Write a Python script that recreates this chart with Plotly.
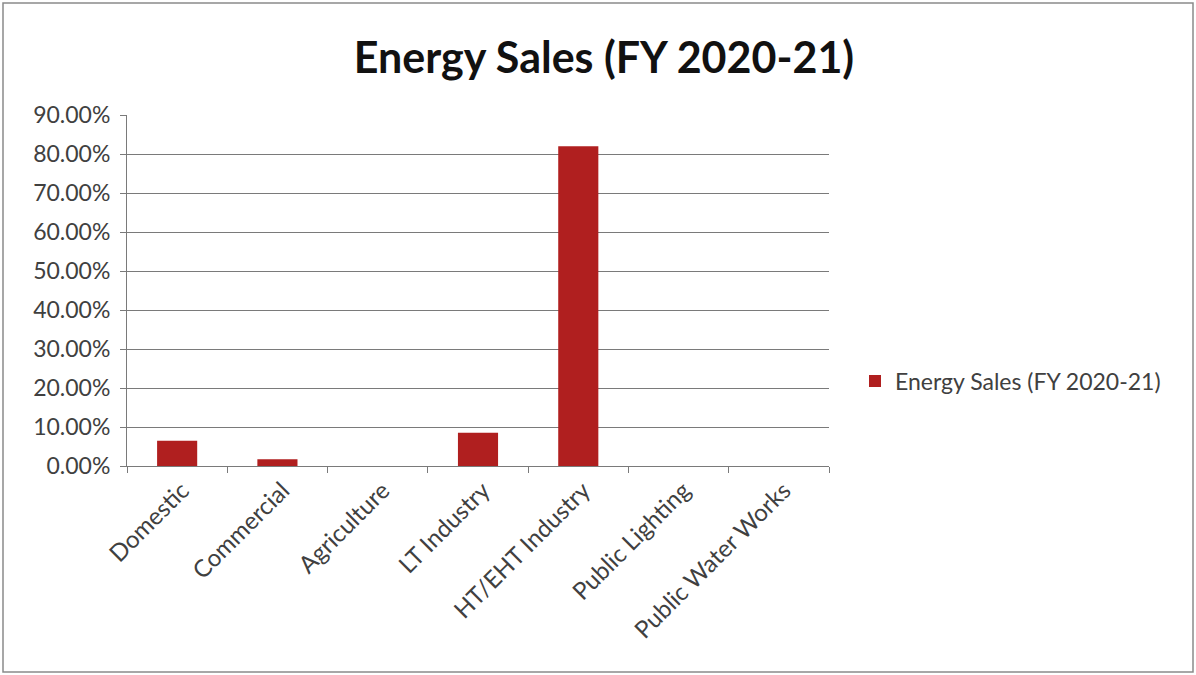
import plotly.graph_objects as go

categories = ["Domestic", "Commercial", "Agriculture", "LT Industry",
              "HT/EHT Industry", "Public Lighting", "Public Water Works"]
values = [6.5, 1.7, 0.0, 8.5, 82.0, 0.0, 0.0]
series_name = "Energy Sales (FY 2020-21)"
y_ticks = [0, 10, 20, 30, 40, 50, 60, 70, 80, 90]

L, R, T, B = 127, 367, 115, 209
W, H = 1196, 675
pw, ph = W - L - R, H - T - B

font_family = "Lato, 'Open Sans', sans-serif"

fig = go.Figure()
fig.add_trace(go.Bar(
    x=categories, y=values, name=series_name,
    marker=dict(color="#B01F1F", line=dict(width=0)),
    showlegend=True,
))

fig.update_layout(
    width=W, height=H,
    margin=dict(l=L, r=R, t=T, b=B, autoexpand=False),
    paper_bgcolor="white", plot_bgcolor="white",
    bargap=0.6,
    title=dict(text="<b>Energy Sales (FY 2020-21)</b>", x=0.505, xanchor="center",
               y=1 - 58 / H, yanchor="middle",
               font=dict(family=font_family, size=43, color="#111111")),
    font=dict(family=font_family, color="#404040"),
    showlegend=True,
    legend=dict(x=(855 - L) / pw, y=(466 - 381) / ph, xanchor="left", yanchor="middle",
                font=dict(size=23, color="#404040"), bgcolor="rgba(0,0,0,0)",
                itemwidth=30),
    xaxis=dict(
        type="category", showline=True, linecolor="#7a7a7a", linewidth=1,
        ticks="outside", tickson="boundaries", ticklen=6, tickcolor="#7a7a7a",
        tickangle=-45, tickfont=dict(size=24, color="#404040"),
        ticklabelshift=5,
        showgrid=False, zeroline=False,
    ),
    yaxis=dict(
        range=[0, 90], tickvals=y_ticks,
        ticktext=[f"{v:.2f}%" for v in y_ticks],
        showline=True, linecolor="#7a7a7a", linewidth=1,
        ticks="outside", ticklen=6, tickcolor="#7a7a7a",
        showgrid=True, gridcolor="#7a7a7a", gridwidth=1,
        zeroline=False, tickfont=dict(size=23, color="#404040"),
        ticklabelstandoff=5,
    ),
    shapes=[dict(
        type="rect", xref="paper", yref="paper",
        x0=(3 - L) / pw, x1=(1193 - L) / pw,
        y0=(466 - 672) / ph, y1=(466 - 3) / ph,
        line=dict(color="#8a8a8a", width=1.5), fillcolor="rgba(0,0,0,0)",
        layer="below",
    )],
)

fig.write_html("out.html", config={"displayModeBar": False},
               post_script="document.body.style.margin='0';")
